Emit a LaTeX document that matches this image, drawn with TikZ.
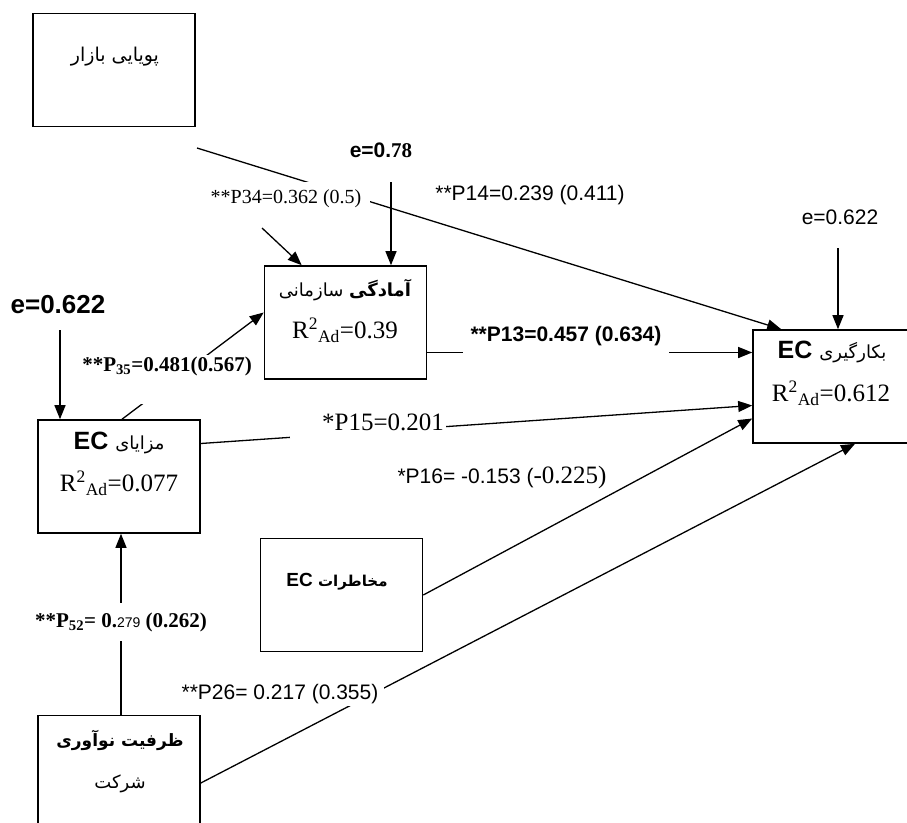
\documentclass[tikz,border=0pt]{standalone}
\usepackage{fontspec}
\setmainfont{Liberation Serif}
\setsansfont{Liberation Sans}
\newfontfamily\fa[Script=Arabic]{DejaVu Sans}
\TeXXeTstate=1
\usetikzlibrary{arrows.meta}
\newcommand{\fsz}[1]{\fontsize{#1}{#1}\selectfont}

\begin{document}
\begin{tikzpicture}[x=1pt, y=-1pt,
    box/.style={draw, line width=1.6pt, minimum width=162pt, minimum height=113pt, inner sep=0pt},
    txt/.style={inner sep=1pt},
    lbl/.style={inner sep=2pt},
    wlbl/.style={inner sep=2pt, fill=white},
    ln/.style={line width=1.3pt},
    arr/.style={line width=1.3pt, -{Triangle[length=14pt, width=11pt]}}]
\useasboundingbox (0,0) rectangle (907,822);

\node[box] (mkt) at (114,70) {};
\node[box] (org) at (345.5,322.5) {};
\node[box, minimum width=160pt] (ecuse) at (833,386.5) {};
\node[box] (maz) at (119,476.5) {};
\node[box] (makh) at (341.5,595) {};
\node[box] (zarf) at (119,772) {};

\node[txt] (mkttxt) at (115,57) {\fsz{19}\fa\beginR پویایی بازار\endR};
\node[txt] (orgtxt) at (345,290) {\fsz{18}\fa\beginR{\bfseries آمادگی} سازمانی\endR};
\node[txt] (orgr) at (345,330) {\fsz{25}R\textsuperscript{2}\textsubscript{Ad}=0.39};
\node[txt] (ecusetxt) at (832,352) {\fsz{25}\sffamily\bfseries EC\ {\mdseries\fsz{18}\fa\beginR بکارگیری\endR}};
\node[txt] (ecuser) at (831,393) {\fsz{25}R\textsuperscript{2}\textsubscript{Ad}=0.612};
\node[txt] (maztxt) at (119,443) {\fsz{25}\sffamily\bfseries EC\ {\mdseries\fsz{18}\fa\beginR مزایای\endR}};
\node[txt] (mazr) at (119,483) {\fsz{25}R\textsuperscript{2}\textsubscript{Ad}=0.077};
\node[txt] (makhtxt) at (337,582) {\fsz{19}\sffamily\bfseries EC\ {\fsz{15}\fa\beginR مخاطرات\endR}};
\node[txt] (zarftxt) at (120,740) {\fsz{17}\fa\bfseries\beginR ظرفیت نوآوری\endR};
\node[txt] (zarftxt2) at (120,784) {\fsz{18}\fa\beginR شرکت\endR};

\coordinate (mktout) at (197,148);
\coordinate (p34in) at (262,228);
\coordinate (e78tail) at (391,182);
\coordinate (eusetail) at (838,248);
\coordinate (emaztail) at (60,330);

\draw[arr] (mktout) -- ([xshift=29pt]ecuse.north west);
\draw[arr] (p34in) -- ([xshift=38pt]org.north west);
\draw[arr] (e78tail) -- (e78tail |- org.north);
\draw[arr] (eusetail) -- (eusetail |- ecuse.north);
\draw[arr] (emaztail) -- (emaztail |- maz.north);
\draw[arr] ([xshift=3pt]maz.north) -- ([yshift=10pt]org.west);
\draw[arr] ([yshift=-30pt]org.east) -- ([yshift=-30pt]org.east -| ecuse.west);
\draw[arr] ([yshift=33pt]maz.east) -- ([yshift=-19pt]ecuse.west);
\draw[arr] (makh.east) -- ([yshift=-32pt]ecuse.west);
\draw[arr] ([yshift=-11pt]zarf.east) -- ([xshift=22pt]ecuse.south);
\draw[arr] ([xshift=2pt]zarf.north) -- ([xshift=2pt]maz.south);

\node[lbl] (e78) at (381,150) {\fsz{21}\bfseries{\sffamily e=0.}78};
\node[lbl] (euse) at (840,217) {\fsz{21}\sffamily e=0.622};
\node[lbl] (emaz) at (58,305) {\fsz{26}\sffamily\bfseries e=0.622};
\node[wlbl, inner xsep=9pt, inner ysep=8pt] (p34) at (286,199) {\fsz{20}**P34=0.362 (0.5)};
\node[lbl] (p14) at (530,195) {\fsz{21}\sffamily **P14=0.239 (0.411)};
\node[wlbl, anchor=north, text depth=30pt] (p35) at (167,355) {\fsz{21}\bfseries **P\textsubscript{35}=0.481(0.567)};
\node[wlbl, anchor=north, text depth=20pt, inner xsep=8pt] (p13) at (566,324) {\fsz{21}\sffamily\bfseries **P13=0.457 (0.634)};
\node[wlbl, inner ysep=8pt] (p15) at (368,422) {\fsz{25}\hspace*{30pt}*P15=0.201};
\node[lbl] (p16) at (502,477) {\fsz{21}{\sffamily *P16= -0.153 (}{\fsz{25}-0.225)}};
\node[wlbl, inner xsep=6pt] (p26) at (280,694) {\fsz{21}\sffamily **P26= 0.217 (0.355)};
\node[wlbl, inner ysep=9pt] (p52) at (121,622) {\fsz{21}\bfseries **P\textsubscript{52}= 0.{\sffamily\mdseries\fsz{14}279} (0.262)};
\end{tikzpicture}
\end{document}
